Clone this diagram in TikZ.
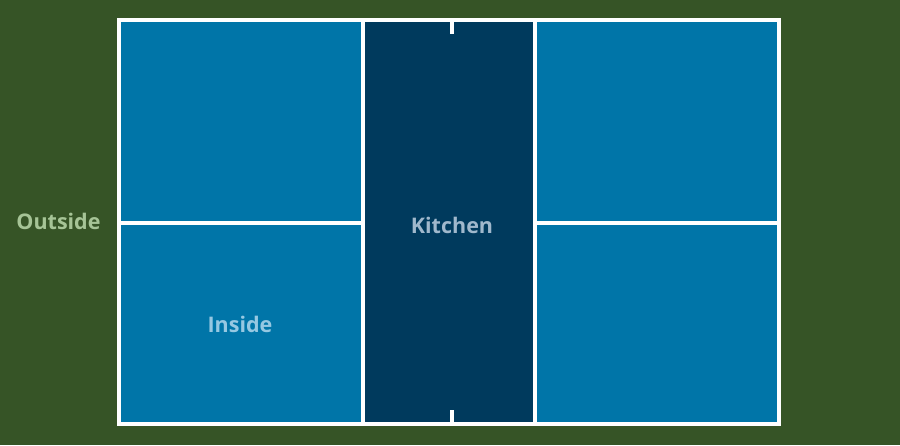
\documentclass[tikz,border=0pt]{standalone}
\usepackage{fontspec}
\setmainfont{Open Sans}[BoldFont={* Bold}]
\definecolor{grass}{RGB}{54,84,38}
\definecolor{court}{RGB}{0,117,168}
\definecolor{kitchenc}{RGB}{0,58,93}
\definecolor{kitchentxt}{RGB}{160,184,204}
\definecolor{insidetxt}{RGB}{150,200,226}
\definecolor{outsidetxt}{RGB}{166,196,150}
\tikzset{
  lbl/.style={anchor=base, inner sep=0pt, font=\fontsize{21.5}{24}\selectfont\bfseries},
}
\begin{document}
\begin{tikzpicture}[x=1pt,y=-1pt]
\useasboundingbox (0,0) rectangle (900,445);
\fill[grass] (0,0) rectangle (900,445);
\fill[white] (117,17.5) rectangle (781,425.5);
\fill[court] (121,22) rectangle (361,221);
\fill[court] (121,225) rectangle (361,421.5);
\fill[kitchenc] (365,22) rectangle (533,421.5);
\fill[court] (537,22) rectangle (777,221);
\fill[court] (537,225) rectangle (777,421.5);
\fill[white] (449.5,22) rectangle (454,34);
\fill[white] (449.5,410) rectangle (454,421.5);
\node[lbl, text=kitchentxt] (kitchen) at (452,233) {Kitchen};
\node[lbl, text=outsidetxt] (outside) at (58.5,229) {Outside};
\node[lbl, text=insidetxt] (inside) at (240,332) {Inside};
\end{tikzpicture}
\end{document}
